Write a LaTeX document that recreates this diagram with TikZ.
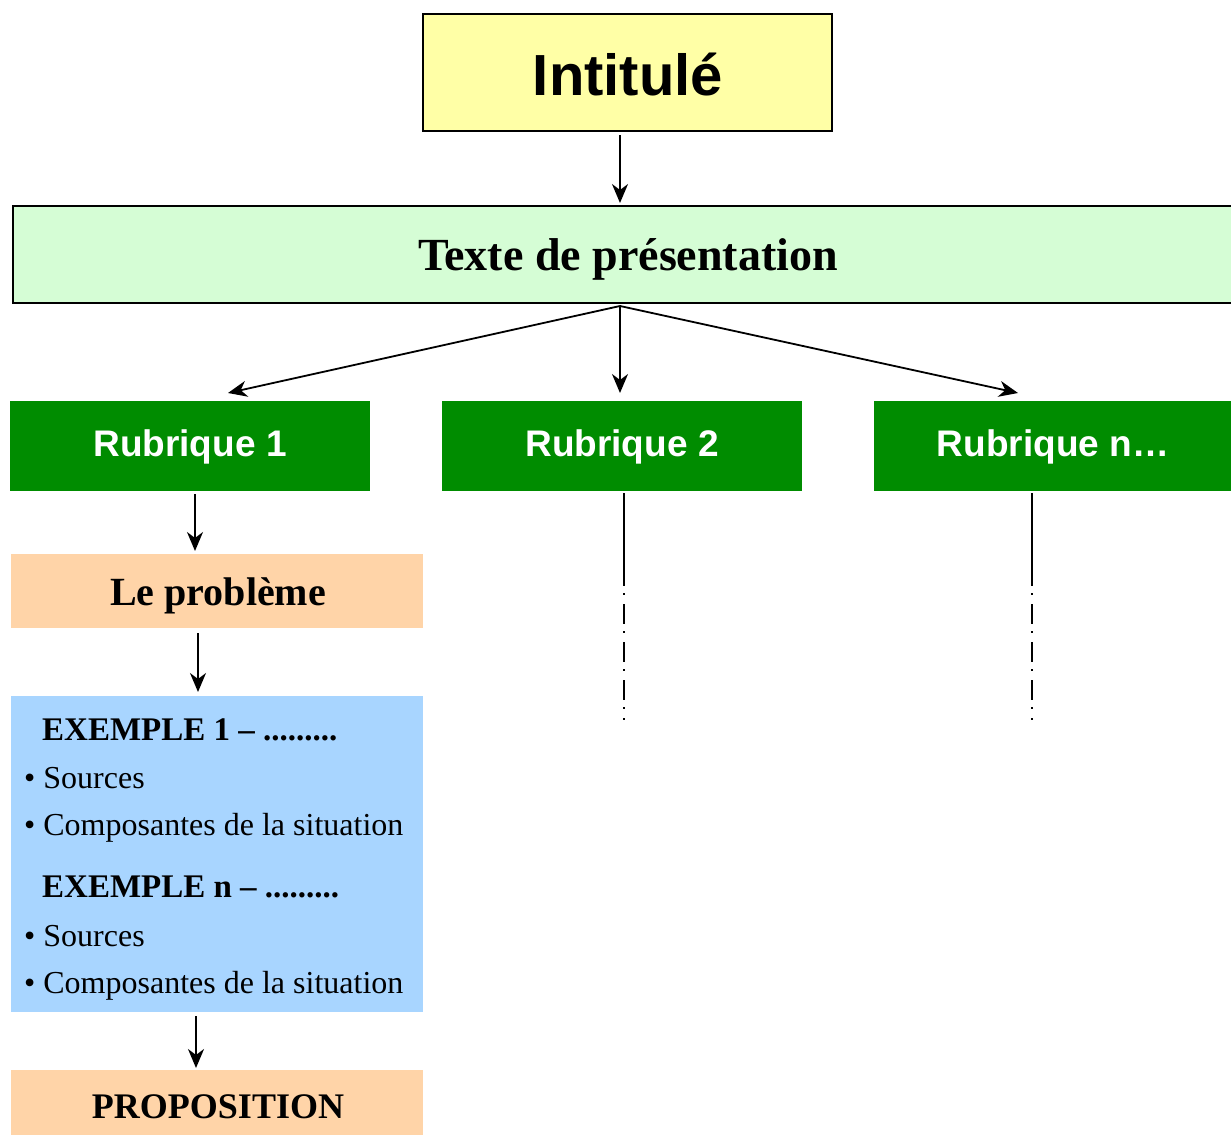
\documentclass[tikz,border=0pt]{standalone}
\usepackage{fontspec}
\setmainfont{Liberation Serif}
\newfontfamily\arialf{Liberation Sans}
\usetikzlibrary{arrows.meta}
\definecolor{yel}{RGB}{255,255,166}
\definecolor{lgreen}{RGB}{213,253,213}
\definecolor{dgreen}{RGB}{0,140,0}
\definecolor{orng}{RGB}{255,212,168}
\definecolor{lblue}{RGB}{168,213,255}
\begin{document}
\begin{tikzpicture}[x=1pt,y=-1pt,
  box/.style={inner sep=0pt, outer sep=0pt, anchor=north west},
  arr/.style={line width=1.8pt, -{Stealth[length=19pt,width=16pt,inset=6pt]}},
  txt/.style={inner sep=0pt, anchor=base},
  txtl/.style={inner sep=0pt, anchor=base west},
  rubtxt/.style={txt, text=white, font=\arialf\bfseries\fontsize{37}{40}\selectfont},
  solidline/.style={line width=1.8pt},
  dashdotline/.style={line width=1.8pt, dash pattern=on 20pt off 7pt on 2pt off 9pt}]
\useasboundingbox (0,0) rectangle (1231,1135);
% boxes
\node[box, fill=yel, draw, line width=2pt, minimum width=409pt, minimum height=117pt] (intitule) at (423,14) {};
\node[box, fill=lgreen, minimum width=1218pt, minimum height=97pt] (texte) at (13,206) {};
\draw[line width=2pt] (texte.north east) -- (texte.north west) -- (texte.south west) -- (texte.south east);
\node[box, fill=dgreen, minimum width=360pt, minimum height=90pt] (rub1) at (10,401) {};
\node[box, fill=dgreen, minimum width=360pt, minimum height=90pt] (rub2) at (442,401) {};
\node[box, fill=dgreen, minimum width=357pt, minimum height=90pt] (rubn) at (874,401) {};
\node[box, fill=orng, minimum width=412pt, minimum height=74pt] (prob) at (11,554) {};
\node[box, fill=lblue, minimum width=412pt, minimum height=316pt] (ex) at (11,696) {};
\node[box, fill=orng, minimum width=412pt, minimum height=65pt] (prop) at (11,1070) {};
% texts
\node[txt, font=\arialf\bfseries\fontsize{58}{60}\selectfont] (tI) at (628,95) {Intitulé};
\node[txt, font=\bfseries\fontsize{46}{48}\selectfont] (tT) at (628,270) {Texte de présentation};
\node[rubtxt] (tR1) at (190,456) {Rubrique 1};
\node[rubtxt] (tR2) at (622,456) {Rubrique 2};
\node[rubtxt] (tRn) at (1053,456) {Rubrique n…};
\node[txt, font=\bfseries\fontsize{40}{42}\selectfont] (tP) at (218,605) {Le problème};
\node[txtl, font=\bfseries\fontsize{33}{35}\selectfont] (e1) at (42,740) {EXEMPLE 1 – .........};
\node[txtl, font=\fontsize{32}{34}\selectfont] (e1a) at (24,788) {• Sources};
\node[txtl, font=\fontsize{32}{34}\selectfont] (e1b) at (24,835) {• Composantes de la situation};
\node[txtl, font=\bfseries\fontsize{33}{35}\selectfont] (en) at (42,897) {EXEMPLE n – .........};
\node[txtl, font=\fontsize{32}{34}\selectfont] (ena) at (24,946) {• Sources};
\node[txtl, font=\fontsize{32}{34}\selectfont] (enb) at (24,993) {• Composantes de la situation};
\node[txt, font=\bfseries\fontsize{36}{38}\selectfont] (tProp) at (218,1118) {PROPOSITION};
% arrows
\draw[arr] ([xshift=-7.5pt,yshift=-4pt]intitule.south) -- ([xshift=-2pt,yshift=3pt]texte.north);
\draw[arr] ([xshift=-2pt,yshift=-3pt]texte.south) -- ([xshift=38pt,yshift=8pt]rub1.north);
\draw[arr] ([xshift=-2pt,yshift=-3pt]texte.south) -- ([xshift=-2pt,yshift=8pt]rub2.north);
\draw[arr] ([xshift=-2pt,yshift=-3pt]texte.south) -- ([xshift=-34.5pt,yshift=8pt]rubn.north);
\draw[arr] ([xshift=5pt,yshift=-3pt]rub1.south) -- ([xshift=-22pt,yshift=3pt]prob.north);
\draw[arr] ([xshift=-19pt,yshift=-5pt]prob.south) -- ([xshift=-19pt,yshift=4pt]ex.north);
\draw[arr] ([xshift=-21pt,yshift=-4pt]ex.south) -- ([xshift=-21pt,yshift=2pt]prop.north);
% dash-dot continuations
\coordinate (d2a) at (624,566);
\coordinate (d2b) at (624,720);
\coordinate (dna) at (1032,566);
\coordinate (dnb) at (1032,720);
\draw[solidline] ([xshift=2pt,yshift=-2pt]rub2.south) -- (d2a);
\draw[dashdotline] (d2a) -- (d2b);
\draw[solidline] ([xshift=-20.5pt,yshift=-2pt]rubn.south) -- (dna);
\draw[dashdotline] (dna) -- (dnb);
\end{tikzpicture}
\end{document}
